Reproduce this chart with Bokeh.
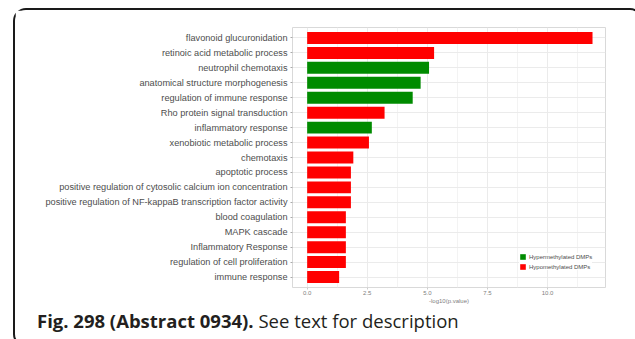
from bokeh.plotting import figure
from bokeh.models import (FactorRange, Range1d, FixedTicker, NumeralTickFormatter,
                          Legend, LegendItem, ColumnDataSource, Div)
from bokeh.layouts import column
from bokeh.embed import file_html
from bokeh.resources import INLINE

categories = [
    "flavonoid glucuronidation",
    "retinoic acid metabolic process",
    "neutrophil chemotaxis",
    "anatomical structure morphogenesis",
    "regulation of immune response",
    "Rho protein signal transduction",
    "inflammatory response",
    "xenobiotic metabolic process",
    "chemotaxis",
    "apoptotic process",
    "positive regulation of cytosolic calcium ion concentration",
    "positive regulation of NF-kappaB transcription factor activity",
    "blood coagulation",
    "MAPK cascade",
    "Inflammatory Response",
    "regulation of cell proliferation",
    "immune response",
]
neg_log10_p = [11.87, 5.28, 5.07, 4.72, 4.39, 3.22, 2.69, 2.57, 1.92,
               1.82, 1.82, 1.82, 1.61, 1.61, 1.61, 1.61, 1.33]
direction = ["Hypo", "Hypo", "Hyper", "Hyper", "Hyper", "Hypo", "Hyper", "Hypo", "Hypo",
             "Hypo", "Hypo", "Hypo", "Hypo", "Hypo", "Hypo", "Hypo", "Hypo"]
group_keys = ["Hyper", "Hypo"]
group_labels = ["Hypermethylated DMPs", "Hypomethylated DMPs"]
group_colors = ["#008b00", "#ff0000"]
x_ticks = [0, 2.5, 5, 7.5, 10]
x_minor = [1.25, 3.75, 6.25, 8.75, 11.25]
x_title = "-log10(p.value)"
caption_bold = "Fig. 298 (Abstract 0934)."
caption_rest = " See text for description"

FONT = "Liberation Sans"

p = figure(width=616, height=297,
           y_range=FactorRange(factors=categories[::-1], range_padding=0.2,
                               range_padding_units="absolute"),
           x_range=Range1d(-0.61, 12.41),
           output_backend="svg", toolbar_location=None,
           min_border_left=277, min_border_right=26,
           min_border_top=17, min_border_bottom=20)

items = []
for key, label, color in zip(group_keys, group_labels, group_colors):
    idx = [i for i, d in enumerate(direction) if d == key]
    src = ColumnDataSource(dict(y=[categories[i] for i in idx],
                                right=[neg_log10_p[i] for i in idx]))
    r = p.hbar(y="y", left=0, right="right", height=0.8, source=src,
               fill_color=color, line_color=None)
    items.append(LegendItem(label=label, renderers=[r]))

legend = Legend(items=items, location=(227, 17))
legend.label_text_font = FONT
legend.label_text_font_size = "6px"
legend.label_text_color = "#4d4d4d"
legend.glyph_width = 7
legend.glyph_height = 7
legend.label_height = 7
legend.spacing = 3
legend.padding = 1
legend.margin = 0
legend.label_standoff = 3
legend.border_line_color = None
legend.background_fill_color = "white"
p.add_layout(legend)

ticker = FixedTicker(ticks=x_ticks, minor_ticks=x_minor)
p.xaxis.ticker = ticker
p.xaxis.formatter = NumeralTickFormatter(format="0.0")
p.xaxis.major_label_text_font = FONT
p.xaxis.major_label_text_font_size = "6px"
p.xaxis.major_label_text_color = "#808080"
p.xaxis.axis_label = x_title
p.xaxis.axis_label_text_font = FONT
p.xaxis.axis_label_text_font_size = "6px"
p.xaxis.axis_label_text_font_style = "normal"
p.xaxis.axis_label_text_color = "#808080"
p.xaxis.axis_label_standoff = 0
p.xaxis.major_label_standoff = 1
p.xaxis.axis_line_color = None
p.xaxis.major_tick_out = 2
p.xaxis.major_tick_in = 0
p.xaxis.minor_tick_out = 0
p.xaxis.minor_tick_in = 0
p.xaxis.major_tick_line_color = "#cccccc"

p.yaxis.major_label_text_font = FONT
p.yaxis.major_label_text_font_size = "9.2px"
p.yaxis.major_label_text_color = "#4d4d4d"
p.yaxis.major_tick_out = 2
p.yaxis.major_tick_in = 0
p.yaxis.major_tick_line_color = "#aaaaaa"
p.yaxis.axis_line_color = None
p.yaxis.major_label_standoff = 3

p.xgrid.ticker = ticker
p.xgrid.grid_line_color = "#ebebeb"
p.xgrid.minor_grid_line_color = "#f3f3f3"
p.ygrid.grid_line_color = "#ebebeb"
p.outline_line_color = "#d9d9d9"
p.background_fill_color = "white"
p.border_fill_color = "white"

div = Div(text=('<div style="font-family:\'Open Sans\';font-size:18.5px;color:#231f20;'
                'padding-left:17px;padding-top:0px;line-height:18px;white-space:nowrap;">'
                f'<b>{caption_bold}</b>{caption_rest}</div>'),
          width=616, height=28)

layout = column(p, div, margin=(8, 0, 0, 13),
                styles={"border": "2px solid #1a1a1a", "border-radius": "13px",
                        "background": "white"})

open("out.html", "w").write(file_html(layout, INLINE))
